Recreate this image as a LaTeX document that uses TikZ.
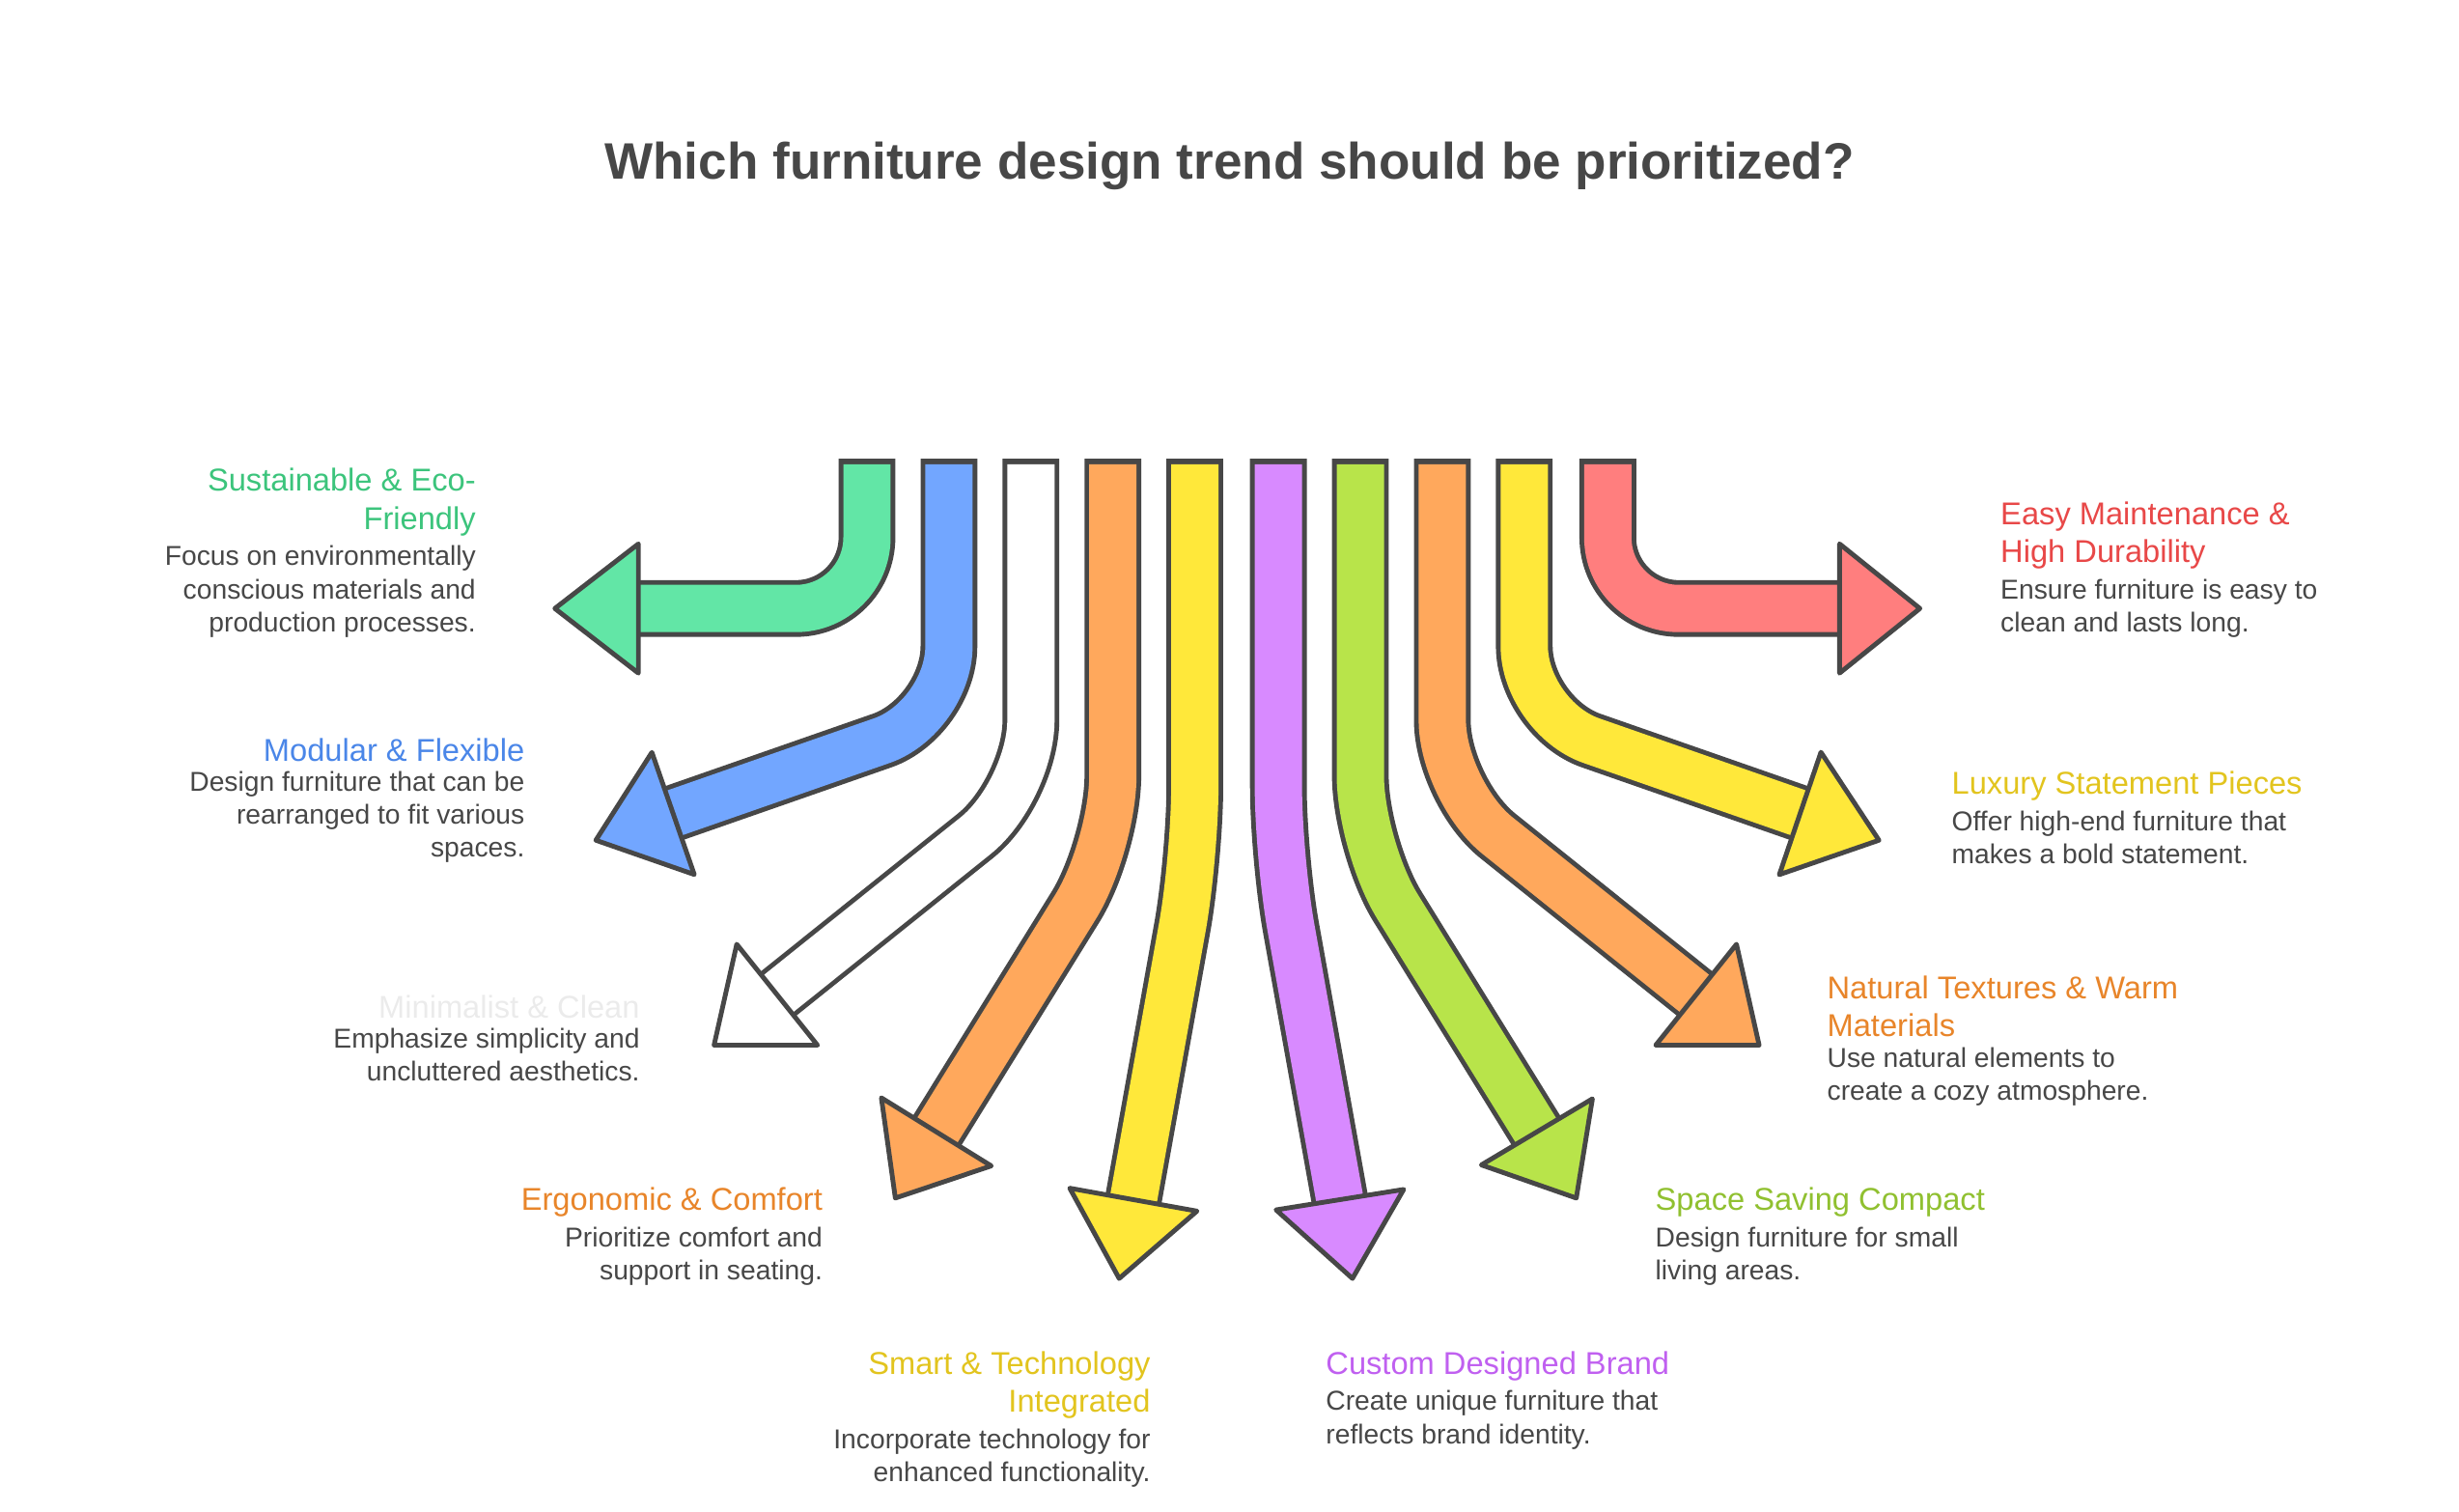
\documentclass[tikz,border=0pt]{standalone}
\usepackage{fontspec}
\setmainfont{Liberation Sans}
\usetikzlibrary{calc}
\definecolor{dk}{HTML}{474747}
\definecolor{cg}{HTML}{62E6A6}
\definecolor{cb}{HTML}{72A6FF}
\definecolor{co}{HTML}{FFA85C}
\definecolor{cy}{HTML}{FFE83A}
\definecolor{cp}{HTML}{D88AFF}
\definecolor{cl}{HTML}{B8E44A}
\definecolor{cr}{HTML}{FF7E7E}
\tikzset{
 ttl/.style={inner sep=0pt,font=\fontsize{20}{24}\selectfont},
 dsc/.style={inner sep=0pt,font=\fontsize{17.3}{21}\selectfont,text=dk},
}
\newcommand\myarrow[5]{%
 \draw[line width=36pt,dk,rounded corners=45pt] (#2,291) #3;
 \draw[line width=30pt,#1,rounded corners=45pt] (#2,294.5) #3;
 \filldraw[fill=#1,draw=dk,line width=3pt,line join=round]
  ($#4!41pt!90:#5$) -- #5 -- ($#4!41pt!-90:#5$) -- cycle;}
\begin{document}
\begin{tikzpicture}[x=1pt,y=-1pt]
\useasboundingbox (0,0) rectangle (1560,959);
\node[font=\bfseries\fontsize{32.5}{36}\selectfont,text=dk] (t) at (780,105) {Which furniture design trend should be prioritized?};
\myarrow{cg}{550}{-- (550,386) -- (405,386)}{(405,386)}{(352,386)}
\myarrow{cb}{602}{-- (602,455) -- (427,516)}{(427,516)}{(378,533)}
\myarrow{white}{654}{-- (654,502) -- (493,631)}{(493,631)}{(453,663)}
\myarrow{co}{706}{-- (706,537) -- (594,718)}{(594,718)}{(568,760)}
\myarrow{cy}{758}{-- (758,544) -- (719,761)}{(719,761)}{(710,811)}
\myarrow{cp}{811}{-- (811,544) -- (850,761)}{(850,761)}{(858,811)}
\myarrow{cl}{863}{-- (863,537) -- (975,718)}{(975,718)}{(1000,760)}
\myarrow{co}{915}{-- (915,502) -- (1076,631)}{(1076,631)}{(1116,663)}
\myarrow{cy}{967}{-- (967,455) -- (1142,516)}{(1142,516)}{(1192,533)}
\myarrow{cr}{1020}{-- (1020,386) -- (1167,386)}{(1167,386)}{(1218,386)}
% labels left
\node[ttl,anchor=north east,align=right,text={rgb,255:red,60;green,196;blue,124}] (a1) at (302,297) {Sustainable \& Eco-\\Friendly};
\node[dsc,anchor=north east,align=right] (d1) at ([yshift=-6pt]a1.south east) {Focus on environmentally\\conscious materials and\\production processes.};
\node[ttl,anchor=north east,align=right,text={rgb,255:red,74;green,134;blue,232}] (a2) at (333,468) {Modular \& Flexible};
\node[dsc,anchor=north east,align=right] (d2) at ([yshift=-6pt]a2.south east) {Design furniture that can be\\rearranged to fit various\\spaces.};
\node[ttl,anchor=north east,align=right,text=black!8] (a3) at (406,631) {Minimalist \& Clean};
\node[dsc,anchor=north east,align=right] (d3) at ([yshift=-6pt]a3.south east) {Emphasize simplicity and\\uncluttered aesthetics.};
\node[ttl,anchor=north east,align=right,text={rgb,255:red,232;green,133;blue,42}] (a4) at (522,753) {Ergonomic \& Comfort};
\node[dsc,anchor=north east,align=right] (d4) at ([yshift=-6pt]a4.south east) {Prioritize comfort and\\support in seating.};
\node[ttl,anchor=north east,align=right,text={rgb,255:red,226;green,196;blue,30}] (a5) at (730,857) {Smart \& Technology\\Integrated};
\node[dsc,anchor=north east,align=right] (d5) at ([yshift=-6pt]a5.south east) {Incorporate technology for\\enhanced functionality.};
% labels right
\node[ttl,anchor=north west,align=left,text={rgb,255:red,192;green,96;blue,240}] (a6) at (841,857) {Custom Designed Brand};
\node[dsc,anchor=north west,align=left] (d6) at ([yshift=-6pt]a6.south west) {Create unique furniture that\\reflects brand identity.};
\node[ttl,anchor=north west,align=left,text={rgb,255:red,144;green,192;blue,48}] (a7) at (1050,753) {Space Saving Compact};
\node[dsc,anchor=north west,align=left] (d7) at ([yshift=-6pt]a7.south west) {Design furniture for small\\living areas.};
\node[ttl,anchor=north west,align=left,text={rgb,255:red,232;green,133;blue,42}] (a8) at (1159,619) {Natural Textures \& Warm\\Materials};
\node[dsc,anchor=north west,align=left] (d8) at ([yshift=-6pt]a8.south west) {Use natural elements to\\create a cozy atmosphere.};
\node[ttl,anchor=north west,align=left,text={rgb,255:red,226;green,196;blue,30}] (a9) at (1238,489) {Luxury Statement Pieces};
\node[dsc,anchor=north west,align=left] (d9) at ([yshift=-6pt]a9.south west) {Offer high-end furniture that\\makes a bold statement.};
\node[ttl,anchor=north west,align=left,text={rgb,255:red,232;green,72;blue,72}] (a10) at (1269,318) {Easy Maintenance \&\\High Durability};
\node[dsc,anchor=north west,align=left] (d10) at ([yshift=-6pt]a10.south west) {Ensure furniture is easy to\\clean and lasts long.};
\end{tikzpicture}
\end{document}
